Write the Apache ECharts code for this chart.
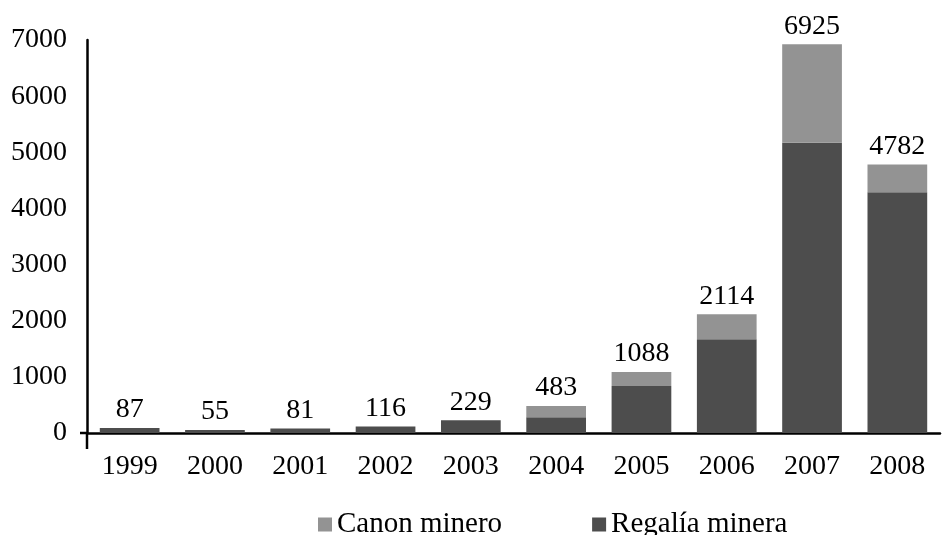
<!DOCTYPE html>
<html>
<head>
<meta charset="utf-8">
<script src="https://cdn.jsdelivr.net/npm/echarts@6/dist/echarts.min.js"></script>
<style>
html,body{margin:0;padding:0;background:#fff;}
#chart{width:943px;height:535px;}
</style>
</head>
<body>
<div id="chart"></div>
<script>
const years = ['1999','2000','2001','2002','2003','2004','2005','2006','2007','2008'];
const regalia = [87, 55, 81, 116, 229, 280, 838, 1670, 5169, 4290];
const canon = [0, 0, 0, 0, 0, 203, 250, 444, 1756, 492];
const totals = [87, 55, 81, 116, 229, 483, 1088, 2114, 6925, 4782];
const yTicks = [0, 1000, 2000, 3000, 4000, 5000, 6000, 7000];

const FONT = '"Liberation Serif", "DejaVu Serif", serif';
const FS = 28;
const chart = echarts.init(document.getElementById('chart'), null, {renderer: 'canvas'});
chart.setOption({
  animation: false,
  backgroundColor: '#ffffff',
  textStyle: {fontFamily: FONT},
  grid: {left: 87, right: 3, top: 40, bottom: 102, containLabel: false},
  legend: {
    data: ['Canon minero', 'Regalía minera'],
    left: 313, top: 505,
    itemWidth: 14, itemHeight: 14, itemGap: 90,
    icon: 'rect',
    textStyle: {fontFamily: FONT, fontSize: 29, color: '#000'}
  },
  xAxis: {
    type: 'category',
    data: years,
    axisLine: {lineStyle: {color: '#000', width: 2.5}},
    axisTick: {show: false},
    axisLabel: {fontFamily: FONT, fontSize: FS, color: '#000', margin: 20}
  },
  yAxis: {
    type: 'value',
    min: yTicks[0], max: yTicks[yTicks.length - 1], interval: 1000,
    splitLine: {show: false},
    axisLine: {show: true, lineStyle: {color: '#000', width: 2.5}},
    axisTick: {show: false},
    axisLabel: {fontFamily: FONT, fontSize: FS, color: '#000', margin: 20,
      formatter: function (v) { return String(v); }}
  },
  series: [
    {
      name: 'Regalía minera', type: 'bar', stack: 'total',
      data: regalia, barCategoryGap: '30%',
      itemStyle: {color: '#4d4d4d'}
    },
    {
      name: 'Canon minero', type: 'bar', stack: 'total',
      data: canon, barCategoryGap: '30%',
      itemStyle: {color: '#939393'},
      label: {
        show: true, position: 'top', distance: 4,
        fontFamily: FONT, fontSize: FS, color: '#000',
        formatter: function (p) { return String(totals[p.dataIndex]); }
      }
    }
  ]
});
// decorative axis cross at the origin
const o = chart.convertToPixel({gridIndex: 0}, [0, 0]);
const x0 = chart.getModel().getComponent('grid').coordinateSystem.getRect().x;
chart.setOption({
  graphic: [
    {type: 'line', shape: {x1: x0 - 7, y1: o[1], x2: x0, y2: o[1]}, style: {stroke: '#000', lineWidth: 2.5}},
    {type: 'line', shape: {x1: x0, y1: o[1], x2: x0, y2: o[1] + 16}, style: {stroke: '#000', lineWidth: 2.5}}
  ]
});
</script>
</body>
</html>
